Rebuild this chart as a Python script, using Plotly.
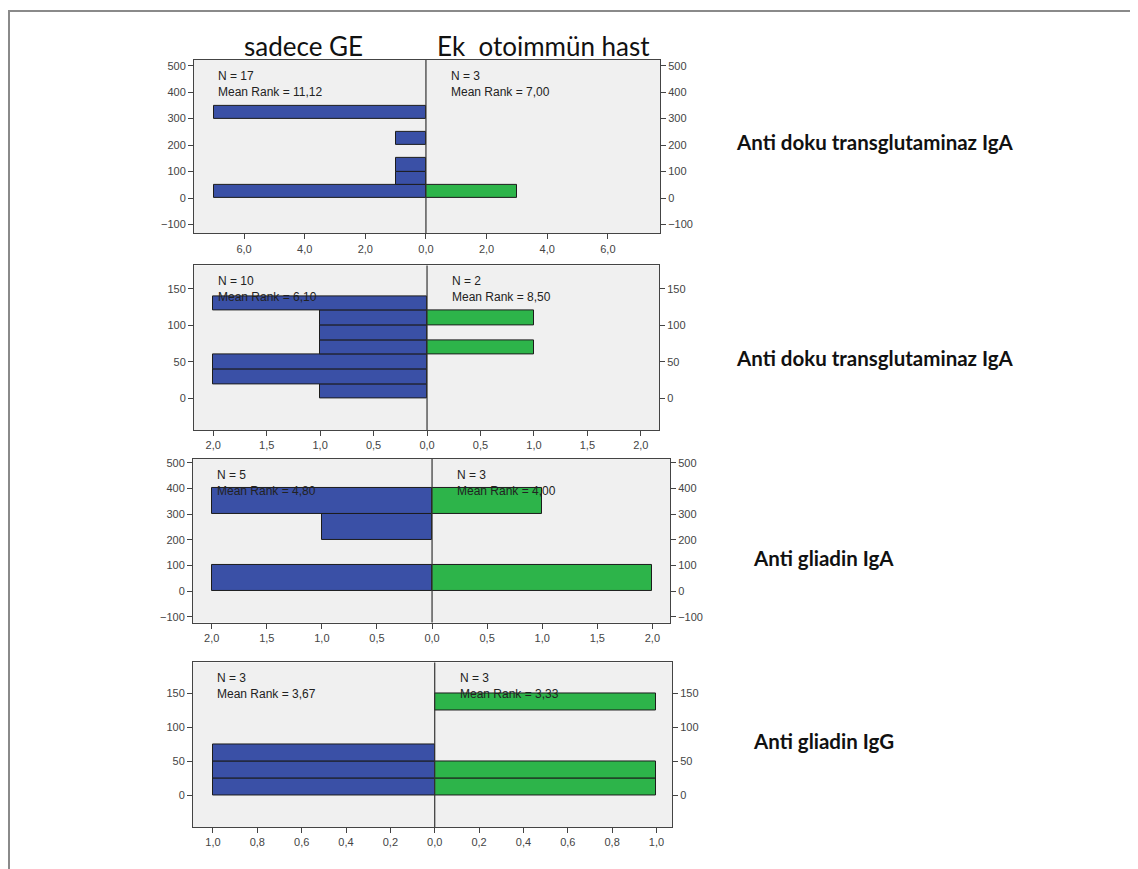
import plotly.graph_objects as go

# ---------------- data ----------------
group_titles = ["sadece GE", "Ek\u00a0 otoimmün hast"]
panel_labels = ["Anti doku transglutaminaz IgA", "Anti doku transglutaminaz IgA",
                "Anti gliadin IgA", "Anti gliadin IgG"]

bin_width = [50, 20, 100, 25]
bin_starts = [
    [0, 50, 100, 150, 200, 250, 300],
    [0, 20, 40, 60, 80, 100, 120],
    [0, 100, 200, 300],
    [0, 25, 50, 75, 100, 125],
]
counts_left = [
    [7, 1, 1, 0, 1, 0, 7],
    [1, 2, 2, 1, 1, 1, 2],
    [2, 0, 1, 2],
    [1, 1, 1, 0, 0, 0],
]
counts_right = [
    [3, 0, 0, 0, 0, 0, 0],
    [0, 0, 0, 1, 0, 1, 0],
    [2, 0, 0, 1],
    [1, 1, 0, 0, 0, 1],
]
n_left = [17, 10, 5, 3]
n_right = [3, 2, 3, 3]
rank_left = ["11,12", "6,10", "4,80", "3,67"]
rank_right = ["7,00", "8,50", "4,00", "3,33"]

y_ticks = [
    [-100, 0, 100, 200, 300, 400, 500],
    [0, 50, 100, 150],
    [-100, 0, 100, 200, 300, 400, 500],
    [0, 50, 100, 150],
]
x_ticks = [
    [-6, -4, -2, 0, 2, 4, 6],
    [-2, -1.5, -1, -0.5, 0, 0.5, 1, 1.5, 2],
    [-2, -1.5, -1, -0.5, 0, 0.5, 1, 1.5, 2],
    [-1, -0.8, -0.6, -0.4, -0.2, 0, 0.2, 0.4, 0.6, 0.8, 1],
]
x_ticktext = [
    ["6,0", "4,0", "2,0", "0,0", "2,0", "4,0", "6,0"],
    ["2,0", "1,5", "1,0", "0,5", "0,0", "0,5", "1,0", "1,5", "2,0"],
    ["2,0", "1,5", "1,0", "0,5", "0,0", "0,5", "1,0", "1,5", "2,0"],
    ["1,0", "0,8", "0,6", "0,4", "0,2", "0,0", "0,2", "0,4", "0,6", "0,8", "1,0"],
]

# ---------------- layout geometry (pixels of the page) ----------------
PAGE_W, PAGE_H = 1138, 869
OFF = 8  # default body margin of the html page
W, H = PAGE_W - OFF, PAGE_H - OFF
boxes = [  # left, right, top, bottom
    (194, 660, 58, 232),
    (194, 659, 264, 429),
    (193, 670, 458, 622),
    (193, 672, 662, 827),
]
x_ranges = [(-7.65, 7.72), (-2.18, 2.17), (-2.17, 2.16), (-1.09, 1.07)]
y_ranges = [(-134, 522), (-43, 182), (-123, 515), (-47, 195)]
label_pos = [(734, 140), (734, 357), (751, 557), (751, 741)]

BLUE = "#3A50A6"
GREEN = "#2DB44A"
EDGE = "#1c1c1c"
ARIAL = "Liberation Sans, Arial, sans-serif"
TICKFONT = dict(family=ARIAL, size=11, color="#444444")


def px(x):
    return (x - OFF) / W


def py(y):
    return 1 - (y - OFF) / H


fig = go.Figure()
layout = dict(
    width=W, height=H,
    margin=dict(l=0, r=0, t=0, b=0),
    paper_bgcolor="white",
    plot_bgcolor="#F0F0F0",
    showlegend=False,
    barmode="overlay",
    bargap=0,
)
annotations = []
shapes = []

for i in range(4):
    k = i + 1
    xa = "x" if k == 1 else f"x{k}"
    ya = "y" if k == 1 else f"y{k}"
    yr = f"y{k + 4}"
    l, r, t, b = boxes[i]

    ys_l = [s + bin_width[i] / 2 for s, c in zip(bin_starts[i], counts_left[i]) if c > 0]
    xs_l = [-c for c in counts_left[i] if c > 0]
    ys_r = [s + bin_width[i] / 2 for s, c in zip(bin_starts[i], counts_right[i]) if c > 0]
    xs_r = [c for c in counts_right[i] if c > 0]

    fig.add_trace(go.Bar(x=xs_l, y=ys_l, orientation="h", width=bin_width[i],
                         marker=dict(color=BLUE, line=dict(color=EDGE, width=1)),
                         xaxis=xa, yaxis=ya, hoverinfo="skip"))
    fig.add_trace(go.Bar(x=xs_r, y=ys_r, orientation="h", width=bin_width[i],
                         marker=dict(color=GREEN, line=dict(color=EDGE, width=1)),
                         xaxis=xa, yaxis=ya, hoverinfo="skip"))
    # dummy trace for the right-hand y axis
    fig.add_trace(go.Scatter(x=[None], y=[None], xaxis=xa, yaxis=yr,
                             mode="markers", hoverinfo="skip"))

    layout[f"xaxis{'' if k == 1 else k}"] = dict(
        domain=[px(l), px(r)], anchor=ya, range=list(x_ranges[i]),
        tickvals=x_ticks[i], ticktext=x_ticktext[i], tickfont=TICKFONT,
        ticks="outside", ticklen=5, tickcolor="#444", showgrid=False, zeroline=False,
        showline=True, mirror=True, linecolor="#444", linewidth=1, fixedrange=True,
    )
    layout[f"yaxis{'' if k == 1 else k}"] = dict(
        domain=[py(b), py(t)], anchor=xa, range=list(y_ranges[i]),
        tickvals=y_ticks[i], tickfont=TICKFONT,
        ticks="outside", ticklen=5, tickcolor="#444", showgrid=False, zeroline=False,
        showline=True, mirror=True, linecolor="#444", linewidth=1, fixedrange=True,
    )
    layout[f"yaxis{k + 4}"] = dict(
        overlaying=ya, side="right", anchor=xa, range=list(y_ranges[i]),
        tickvals=y_ticks[i], tickfont=TICKFONT,
        ticks="outside", ticklen=5, tickcolor="#444", showgrid=False, zeroline=False,
        showline=False, fixedrange=True,
    )

    # centre line
    shapes.append(dict(type="line", xref=xa, yref=f"{ya} domain", x0=0, x1=0, y0=0, y1=1,
                       line=dict(color="#333", width=1.2)))

    # stats text
    cx = l + (r - l) * (0 - x_ranges[i][0]) / (x_ranges[i][1] - x_ranges[i][0])
    for xpos, n, mr in [(l + 22, n_left[i], rank_left[i]), (cx + 23, n_right[i], rank_right[i])]:
        annotations.append(dict(
            xref="paper", yref="paper", x=px(xpos), y=py(t + 7),
            xanchor="left", yanchor="top", align="left", showarrow=False,
            text=f"N = {n}<br>Mean Rank = {mr}",
            font=dict(family=ARIAL, size=12, color="#222"),
        ))

    # right-hand variable label
    lx, ly = label_pos[i]
    annotations.append(dict(
        xref="paper", yref="paper", x=px(lx), y=py(ly), xanchor="left", yanchor="middle",
        showarrow=False, text=f"<b>{panel_labels[i]}</b>",
        font=dict(family="Lato, sans-serif", size=20.5, color="#111"),
    ))

# group titles
for txt, cx in zip(group_titles, [303, 543]):
    annotations.append(dict(
        xref="paper", yref="paper", x=px(cx), y=py(44), xanchor="center", yanchor="middle",
        showarrow=False, text=txt,
        font=dict(family="Lato, sans-serif", size=26, color="#111"),
    ))

# outer frame
shapes.append(dict(type="rect", xref="paper", yref="paper",
                   x0=px(9), x1=px(1136), y0=py(900), y1=py(9),
                   line=dict(color="#8a8a8a", width=2), fillcolor="rgba(0,0,0,0)", layer="below"))

layout["annotations"] = annotations
layout["shapes"] = shapes
fig.update_layout(**layout)
fig.write_html("out.html")
